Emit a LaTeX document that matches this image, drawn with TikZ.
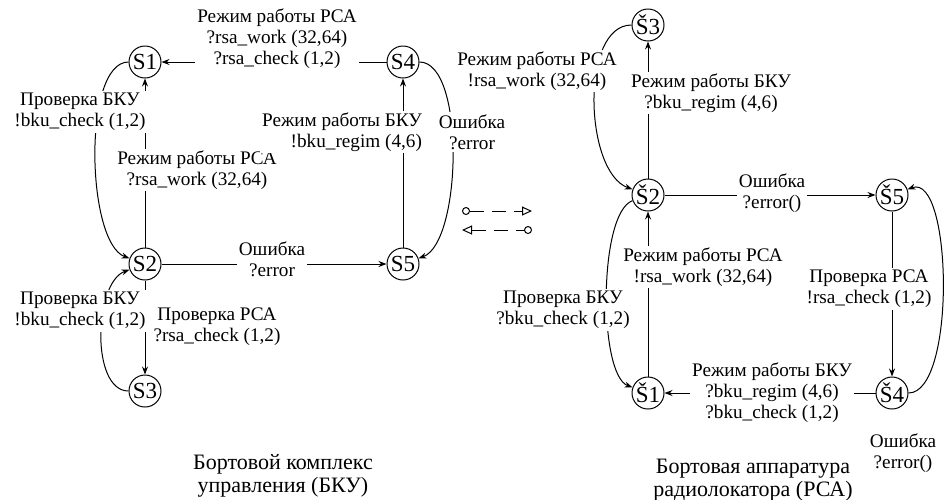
\documentclass[tikz,border=0pt]{standalone}
\usepackage{fontspec}
\setmainfont{Liberation Serif}
\usetikzlibrary{arrows.meta}

\tikzset{
  state/.style={circle, draw, line width=0.5pt, minimum size=16pt, inner sep=0pt,
    font=\fontsize{11.5pt}{12pt}\selectfont},
  lbl/.style={align=center, fill=white, inner sep=1pt,
    font=\fontsize{9.6pt}{10.5pt}\selectfont},
  title/.style={align=center, font=\fontsize{11pt}{11.5pt}\selectfont},
  arr/.style={-{Stealth[length=4pt,width=3pt]}, line width=0.5pt},
  link/.style={line width=0.5pt, dash pattern=on 7pt off 4pt},
}

\begin{document}
\begin{tikzpicture}[x=0.5pt, y=0.5pt]
\useasboundingbox (0,0) rectangle (945,-499);

% БКУ
\node[state] (S1) at (145,-62) {S1};
\node[state] (S4) at (403,-62) {S4};
\node[state] (S2) at (145,-264) {S2};
\node[state] (S5) at (403,-264) {S5};
\node[state] (S3) at (145,-391) {S3};

\draw[arr] (S4) -- (S1);
\draw[arr] (S2) -- (S1);
\draw[arr] (S5) -- (S4);
\draw[arr] (S2) -- (S5);
\draw[arr] (S2) -- (S3);
\draw[arr] (S1) to[out=180, in=160, looseness=0.6] (S2);
\draw[arr] (S3) to[out=180, in=200, looseness=0.8] (S2);
\draw[arr] (S4) to[out=0, in=20, looseness=0.6] (S5);

\node[lbl] (a1) at (277,-39) {Режим работы РСА\\?rsa\_work (32,64)\\?rsa\_check (1,2)};
\node[lbl] (a2) at (80,-112) {Проверка БКУ\\!bku\_check (1,2)};
\node[lbl] (a3) at (197,-170) {Режим работы РСА\\?rsa\_work (32,64)};
\node[lbl, align=right] (a4) at (342,-132) {Режим работы БКУ\\!bku\_regim (4,6)};
\node[lbl] (a5) at (472,-132) {Ошибка\\?error};
\node[lbl] (a6) at (272,-259) {Ошибка\\?error};
\node[lbl] (a7) at (80,-311) {Проверка БКУ\\!bku\_check (1,2)};
\node[lbl] (a8) at (217,-327) {Проверка РСА\\?rsa\_check (1,2)};
\node[title] (bku) at (283,-476) {Бортовой комплекс\\управления (БКУ)};

% РСА
\node[state] (T3) at (648,-25) {Š3};
\node[state] (T2) at (648,-195) {Š2};
\node[state] (T5) at (892,-195) {Š5};
\node[state] (T1) at (648,-393) {Š1};
\node[state] (T4) at (892,-393) {Š4};

\draw[arr] (T2) -- (T3);
\draw[arr] (T2) -- (T5);
\draw[arr] (T1) -- (T2);
\draw[arr] (T5) -- (T4);
\draw[arr] (T4) -- (T1);
\draw[arr] (T3) to[out=180, in=160, looseness=0.8] (T2);
\draw[arr] (T2) to[out=200, in=160, looseness=0.5] (T1);
\draw[arr] (T4) to[out=0, in=20, looseness=0.6] (T5);

\node[lbl] (b1) at (537,-71) {Режим работы РСА\\!rsa\_work (32,64)};
\node[lbl] (b2) at (711,-93) {Режим работы БКУ\\?bku\_regim (4,6)};
\node[lbl] (b3) at (772,-193) {Ошибка\\?error()};
\node[lbl] (b4) at (703,-267) {Режим работы РСА\\!rsa\_work (32,64)};
\node[lbl] (b5) at (563,-310) {Проверка БКУ\\?bku\_check (1,2)};
\node[lbl] (b6) at (869,-289) {Проверка РСА\\!rsa\_check (1,2)};
\node[lbl] (b7) at (772,-393) {Режим работы БКУ\\?bku\_regim (4,6)\\?bku\_check (1,2)};
\node[lbl] (b8) at (903,-453) {Ошибка\\?error()};
\node[title] (rsa) at (753,-480) {Бортовая аппаратура\\радиолокатора (РСА)};

% обмен
\coordinate (m1) at (462,-211);
\coordinate (m2) at (532,-211);
\coordinate (m3) at (462,-230);
\coordinate (m4) at (532,-230);
\draw[link, {Circle[open,length=4pt]}-{Triangle[open,length=5pt,width=4.5pt]}] (m1) -- (m2);
\draw[link, {Triangle[open,length=5pt,width=4.5pt]}-{Circle[open,length=4pt]}] (m3) -- (m4);
\end{tikzpicture}
\end{document}
